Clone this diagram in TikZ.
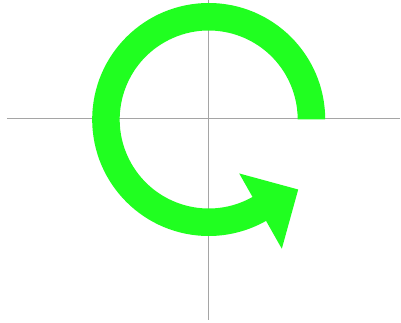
\documentclass[tikz,border=0pt]{standalone}
\begin{document}
\begin{tikzpicture}[x=1pt,y=1pt,
  axis/.style={draw={rgb,255:red,165;green,165;blue,165},line width=1.3pt},
  arrowband/.style={fill={rgb,255:red,32;green,255;blue,32},draw=none}]
\useasboundingbox (-208.7,-203.5) rectangle (192.3,119.5);
\coordinate (hl) at (-201.7,1);
\coordinate (hr) at (191.3,1);
\coordinate (vt) at (0,119.5);
\coordinate (vb) at (0,-200.5);
\draw[axis] (hl) -- (hr);
\draw[axis] (vt) -- (vb);
\coordinate (tip) at (89.5,-70);
\fill[arrowband] (0:116.5) arc[start angle=0,end angle=299.5,radius=116.5]
  -- (299.5:148.5) -- (tip) -- (299.5:62) -- (299.5:89)
  arc[start angle=299.5,end angle=0,radius=89] -- cycle;
\end{tikzpicture}
\end{document}
